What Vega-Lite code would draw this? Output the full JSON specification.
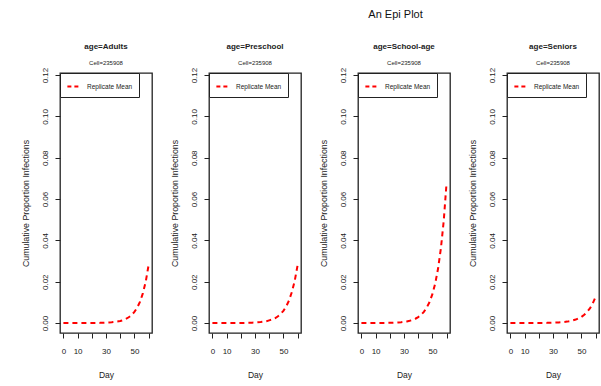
{
  "$schema": "https://vega.github.io/schema/vega-lite/v6.json",
  "padding": {"left": 20, "top": 8, "right": 0, "bottom": 0},
  "background": "white",
  "title": {"text": "An Epi Plot", "fontSize": 11, "fontWeight": "normal", "font": "Liberation Sans", "color": "#111", "dx": 85, "offset": 23, "anchor": "middle"},
  "datasets": {
    "epi": [
      {"age": "Adults", "day": 0, "prop": 0}, {"age": "Adults", "day": 2, "prop": 0}, {"age": "Adults", "day": 4, "prop": 0}, {"age": "Adults", "day": 6, "prop": 0},
      {"age": "Adults", "day": 8, "prop": 0.00001}, {"age": "Adults", "day": 10, "prop": 0.00001}, {"age": "Adults", "day": 12, "prop": 0.00001}, {"age": "Adults", "day": 14, "prop": 0.00002},
      {"age": "Adults", "day": 16, "prop": 0.00002}, {"age": "Adults", "day": 18, "prop": 0.00003}, {"age": "Adults", "day": 20, "prop": 0.00004}, {"age": "Adults", "day": 22, "prop": 0.00005},
      {"age": "Adults", "day": 24, "prop": 0.00007}, {"age": "Adults", "day": 26, "prop": 0.0001}, {"age": "Adults", "day": 28, "prop": 0.00014}, {"age": "Adults", "day": 30, "prop": 0.0002},
      {"age": "Adults", "day": 32, "prop": 0.00028}, {"age": "Adults", "day": 34, "prop": 0.00038}, {"age": "Adults", "day": 36, "prop": 0.00053}, {"age": "Adults", "day": 38, "prop": 0.00074},
      {"age": "Adults", "day": 40, "prop": 0.001}, {"age": "Adults", "day": 42, "prop": 0.0014}, {"age": "Adults", "day": 44, "prop": 0.002}, {"age": "Adults", "day": 46, "prop": 0.0028},
      {"age": "Adults", "day": 48, "prop": 0.0039}, {"age": "Adults", "day": 50, "prop": 0.0054}, {"age": "Adults", "day": 52, "prop": 0.0075}, {"age": "Adults", "day": 54, "prop": 0.0104},
      {"age": "Adults", "day": 56, "prop": 0.0145}, {"age": "Adults", "day": 58, "prop": 0.0201}, {"age": "Adults", "day": 60, "prop": 0.028},
      {"age": "Preschool", "day": 0, "prop": 0}, {"age": "Preschool", "day": 2, "prop": 0}, {"age": "Preschool", "day": 4, "prop": 0}, {"age": "Preschool", "day": 6, "prop": 0.00001},
      {"age": "Preschool", "day": 8, "prop": 0.00001}, {"age": "Preschool", "day": 10, "prop": 0.00001}, {"age": "Preschool", "day": 12, "prop": 0.00002}, {"age": "Preschool", "day": 14, "prop": 0.00002},
      {"age": "Preschool", "day": 16, "prop": 0.00003}, {"age": "Preschool", "day": 18, "prop": 0.00004}, {"age": "Preschool", "day": 20, "prop": 0.00006}, {"age": "Preschool", "day": 22, "prop": 0.00008},
      {"age": "Preschool", "day": 24, "prop": 0.00011}, {"age": "Preschool", "day": 26, "prop": 0.00014}, {"age": "Preschool", "day": 28, "prop": 0.0002}, {"age": "Preschool", "day": 30, "prop": 0.00027},
      {"age": "Preschool", "day": 32, "prop": 0.00037}, {"age": "Preschool", "day": 34, "prop": 0.0005}, {"age": "Preschool", "day": 36, "prop": 0.00068}, {"age": "Preschool", "day": 38, "prop": 0.00092},
      {"age": "Preschool", "day": 40, "prop": 0.0013}, {"age": "Preschool", "day": 42, "prop": 0.0017}, {"age": "Preschool", "day": 44, "prop": 0.0023}, {"age": "Preschool", "day": 46, "prop": 0.0032},
      {"age": "Preschool", "day": 48, "prop": 0.0044}, {"age": "Preschool", "day": 50, "prop": 0.0059}, {"age": "Preschool", "day": 52, "prop": 0.0081}, {"age": "Preschool", "day": 54, "prop": 0.011},
      {"age": "Preschool", "day": 56, "prop": 0.0151}, {"age": "Preschool", "day": 58, "prop": 0.0205}, {"age": "Preschool", "day": 60, "prop": 0.028},
      {"age": "School-age", "day": 0, "prop": 0.00001}, {"age": "School-age", "day": 2, "prop": 0.00001}, {"age": "School-age", "day": 4, "prop": 0.00001}, {"age": "School-age", "day": 6, "prop": 0.00001},
      {"age": "School-age", "day": 8, "prop": 0.00002}, {"age": "School-age", "day": 10, "prop": 0.00003}, {"age": "School-age", "day": 12, "prop": 0.00003}, {"age": "School-age", "day": 14, "prop": 0.00005},
      {"age": "School-age", "day": 16, "prop": 0.00007}, {"age": "School-age", "day": 18, "prop": 0.00009}, {"age": "School-age", "day": 20, "prop": 0.00012}, {"age": "School-age", "day": 22, "prop": 0.00017},
      {"age": "School-age", "day": 24, "prop": 0.00023}, {"age": "School-age", "day": 26, "prop": 0.00032}, {"age": "School-age", "day": 28, "prop": 0.00043}, {"age": "School-age", "day": 30, "prop": 0.0006},
      {"age": "School-age", "day": 32, "prop": 0.0008}, {"age": "School-age", "day": 34, "prop": 0.0011}, {"age": "School-age", "day": 36, "prop": 0.0015}, {"age": "School-age", "day": 38, "prop": 0.0021},
      {"age": "School-age", "day": 40, "prop": 0.0029}, {"age": "School-age", "day": 42, "prop": 0.004}, {"age": "School-age", "day": 44, "prop": 0.0054}, {"age": "School-age", "day": 46, "prop": 0.0075},
      {"age": "School-age", "day": 48, "prop": 0.0102}, {"age": "School-age", "day": 50, "prop": 0.014}, {"age": "School-age", "day": 52, "prop": 0.0192}, {"age": "School-age", "day": 54, "prop": 0.0264},
      {"age": "School-age", "day": 56, "prop": 0.0362}, {"age": "School-age", "day": 58, "prop": 0.0496}, {"age": "School-age", "day": 60, "prop": 0.068},
      {"age": "Seniors", "day": 0, "prop": 0}, {"age": "Seniors", "day": 2, "prop": 0}, {"age": "Seniors", "day": 4, "prop": 0}, {"age": "Seniors", "day": 6, "prop": 0.00001},
      {"age": "Seniors", "day": 8, "prop": 0.00001}, {"age": "Seniors", "day": 10, "prop": 0.00001}, {"age": "Seniors", "day": 12, "prop": 0.00001}, {"age": "Seniors", "day": 14, "prop": 0.00002},
      {"age": "Seniors", "day": 16, "prop": 0.00002}, {"age": "Seniors", "day": 18, "prop": 0.00003}, {"age": "Seniors", "day": 20, "prop": 0.00004}, {"age": "Seniors", "day": 22, "prop": 0.00005},
      {"age": "Seniors", "day": 24, "prop": 0.00007}, {"age": "Seniors", "day": 26, "prop": 0.0001}, {"age": "Seniors", "day": 28, "prop": 0.00013}, {"age": "Seniors", "day": 30, "prop": 0.00017},
      {"age": "Seniors", "day": 32, "prop": 0.00023}, {"age": "Seniors", "day": 34, "prop": 0.0003}, {"age": "Seniors", "day": 36, "prop": 0.0004}, {"age": "Seniors", "day": 38, "prop": 0.00053},
      {"age": "Seniors", "day": 40, "prop": 0.00071}, {"age": "Seniors", "day": 42, "prop": 0.00095}, {"age": "Seniors", "day": 44, "prop": 0.0013}, {"age": "Seniors", "day": 46, "prop": 0.0017},
      {"age": "Seniors", "day": 48, "prop": 0.0023}, {"age": "Seniors", "day": 50, "prop": 0.003}, {"age": "Seniors", "day": 52, "prop": 0.004}, {"age": "Seniors", "day": 54, "prop": 0.0054},
      {"age": "Seniors", "day": 56, "prop": 0.0071}, {"age": "Seniors", "day": 58, "prop": 0.0095}, {"age": "Seniors", "day": 60, "prop": 0.0127}
    ]
  },
  "data": {"name": "epi"},
  "spacing": 57,
  "bounds": "flush",
  "resolve": {"scale": {"color": "independent"}, "legend": {"color": "independent"}},
  "hconcat": [
    {
      "title": {"text": "age=Adults", "subtitle": "Cell=235908"},
      "width": 92, "height": 260,
      "transform": [{"filter": "datum.age === 'Adults'"}],
      "mark": {"type": "line", "strokeDash": [5, 4], "strokeWidth": 2},
      "encoding": {
        "x": {"field": "day", "type": "quantitative", "scale": {"domain": [-2.4, 62.4], "nice": false, "zero": false}, "axis": {"values": [0, 10, 20, 30, 40, 50, 60], "labelExpr": "indexof([0, 10, 30, 50], datum.value) >= 0 ? datum.label : ''", "title": "Day"}},
        "y": {"field": "prop", "type": "quantitative", "scale": {"domain": [-0.0048, 0.121], "nice": false, "zero": false}, "axis": {"values": [0, 0.02, 0.04, 0.06, 0.08, 0.1, 0.12], "format": ".2f", "title": "Cumulative Proportion Infections"}},
        "color": {"datum": "Replicate Mean", "scale": {"range": ["#ff0000"]}}
      }
    },
    {
      "title": {"text": "age=Preschool", "subtitle": "Cell=235908"},
      "width": 92, "height": 260,
      "transform": [{"filter": "datum.age === 'Preschool'"}],
      "mark": {"type": "line", "strokeDash": [5, 4], "strokeWidth": 2},
      "encoding": {
        "x": {"field": "day", "type": "quantitative", "scale": {"domain": [-2.4, 62.4], "nice": false, "zero": false}, "axis": {"values": [0, 10, 20, 30, 40, 50, 60], "labelExpr": "indexof([0, 10, 30, 50], datum.value) >= 0 ? datum.label : ''", "title": "Day"}},
        "y": {"field": "prop", "type": "quantitative", "scale": {"domain": [-0.0048, 0.121], "nice": false, "zero": false}, "axis": {"values": [0, 0.02, 0.04, 0.06, 0.08, 0.1, 0.12], "format": ".2f", "title": "Cumulative Proportion Infections"}},
        "color": {"datum": "Replicate Mean", "scale": {"range": ["#ff0000"]}}
      }
    },
    {
      "title": {"text": "age=School-age", "subtitle": "Cell=235908"},
      "width": 92, "height": 260,
      "transform": [{"filter": "datum.age === 'School-age'"}],
      "mark": {"type": "line", "strokeDash": [5, 4], "strokeWidth": 2},
      "encoding": {
        "x": {"field": "day", "type": "quantitative", "scale": {"domain": [-2.4, 62.4], "nice": false, "zero": false}, "axis": {"values": [0, 10, 20, 30, 40, 50, 60], "labelExpr": "indexof([0, 10, 30, 50], datum.value) >= 0 ? datum.label : ''", "title": "Day"}},
        "y": {"field": "prop", "type": "quantitative", "scale": {"domain": [-0.0048, 0.121], "nice": false, "zero": false}, "axis": {"values": [0, 0.02, 0.04, 0.06, 0.08, 0.1, 0.12], "format": ".2f", "title": "Cumulative Proportion Infections"}},
        "color": {"datum": "Replicate Mean", "scale": {"range": ["#ff0000"]}}
      }
    },
    {
      "title": {"text": "age=Seniors", "subtitle": "Cell=235908"},
      "width": 92, "height": 260,
      "transform": [{"filter": "datum.age === 'Seniors'"}],
      "mark": {"type": "line", "strokeDash": [5, 4], "strokeWidth": 2},
      "encoding": {
        "x": {"field": "day", "type": "quantitative", "scale": {"domain": [-2.4, 62.4], "nice": false, "zero": false}, "axis": {"values": [0, 10, 20, 30, 40, 50, 60], "labelExpr": "indexof([0, 10, 30, 50], datum.value) >= 0 ? datum.label : ''", "title": "Day"}},
        "y": {"field": "prop", "type": "quantitative", "scale": {"domain": [-0.0048, 0.121], "nice": false, "zero": false}, "axis": {"values": [0, 0.02, 0.04, 0.06, 0.08, 0.1, 0.12], "format": ".2f", "title": "Cumulative Proportion Infections"}},
        "color": {"datum": "Replicate Mean", "scale": {"range": ["#ff0000"]}}
      }
    }
  ],
  "config": {
    "view": {"stroke": "#222", "strokeWidth": 1.3},
    "axis": {"grid": false, "domain": false, "tickColor": "#222", "tickSize": 5, "labelFont": "Liberation Sans", "labelFontSize": 8, "labelColor": "#222", "labelOverlap": false, "titleFont": "Liberation Sans", "titleFontWeight": "normal", "titleFontSize": 8.8, "titleColor": "#222"},
    "axisY": {"labelAngle": 270, "labelAlign": "center", "labelBaseline": "bottom", "labelPadding": 5.5, "titlePadding": 11},
    "axisX": {"labelPadding": 9.5, "titlePadding": 15, "titleFontSize": 8.5},
    "title": {"font": "Liberation Sans", "fontSize": 8, "fontWeight": "bold", "color": "#222", "subtitleFont": "Liberation Sans", "subtitleFontSize": 6, "subtitleColor": "#222", "subtitlePadding": 9, "offset": 1},
    "legend": {"title": null, "orient": "top-left", "offset": 0, "strokeColor": "#222", "fillColor": "white", "padding": 6, "symbolType": "stroke", "symbolStrokeWidth": 2, "symbolDash": [4, 3], "symbolSize": 150, "labelFont": "Liberation Sans", "labelFontSize": 6.5, "labelColor": "#222", "labelOffset": 6}
  }
}
